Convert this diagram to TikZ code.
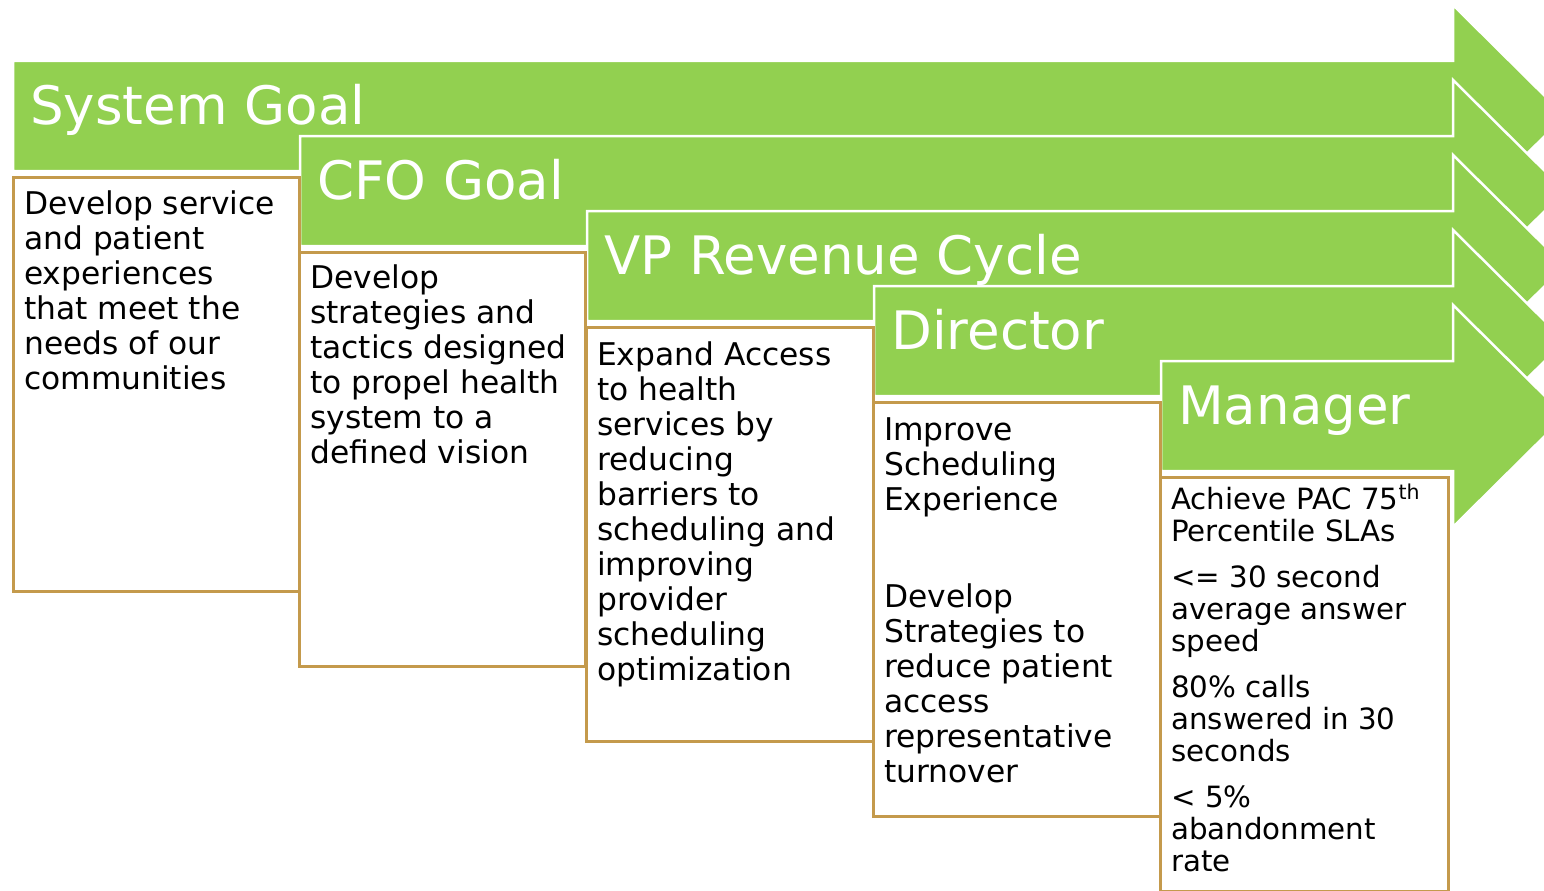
\documentclass[tikz,border=0pt]{standalone}
\usepackage{fontspec}
\setmainfont{DejaVu Sans}
\usetikzlibrary{calc}

\definecolor{leafgreen}{HTML}{92D050}
\definecolor{tanline}{HTML}{C49A4C}

\tikzset{
  levelarrow/.style={fill=leafgreen, draw=white, line width=2.5pt, line join=miter},
  leveltitle/.style={anchor=base west, inner sep=0pt, text=white, font=\fontsize{53}{60}\selectfont},
  goalbox/.style={draw=tanline, fill=white, line width=3pt, anchor=north west, inner sep=0pt,
    outer sep=0pt, minimum width=286pt, minimum height=414pt},
  % base of a multi-line node sits on its last line
  goaltext/.style={anchor=base west, inner sep=0pt, align=left, font=\fontsize{31.3}{35}\selectfont},
}

\begin{document}
\begin{tikzpicture}[x=1pt, y=-1pt]
  \useasboundingbox (0,0) rectangle (1544,891);
  \clip (0,0) rectangle (1544,891);

  % staircase of level arrows
  \foreach \k/\name/\lbl in {0/sysgoal/System Goal, 1/cfogoal/CFO Goal, 2/vprev/VP Revenue Cycle,
                             3/director/Director, 4/manager/Manager} {
    \pgfmathsetmacro{\lx}{13+287*\k}
    \pgfmathsetmacro{\ty}{61+75*\k}
    \draw[levelarrow] (\lx,\ty) -- (1453,\ty) -- (1453,\ty-56) -- (1565,\ty+55)
      -- (1453,\ty+166) -- (1453,\ty+110) -- (\lx,\ty+110) -- cycle;
    \node[leveltitle] (\name) at (\lx+17,\ty+63) {\lbl};
  }

  % goal boxes under each arrow
  \node[goalbox] (sysbox) at (13,177) {};
  \node[goalbox] (cfobox) at (299,252) {};
  \node[goalbox, minimum width=287pt] (vpbox) at (586,327) {};
  \node[goalbox, minimum width=287pt] (dirbox) at (873,402) {};
  \node[goalbox, minimum width=288pt] (mgrbox) at (1160,477) {};

  \node[goaltext] (systext) at ($(sysbox.north west)+(11,212)$)
    {Develop service\\ and patient\\ experiences\\ that meet the\\ needs of our\\ communities};
  \node[goaltext] (cfotext) at ($(cfobox.north west)+(11,211)$)
    {Develop\\ strategies and\\ tactics designed\\ to propel health\\ system to a\\ defined vision};
  \node[goaltext] (vptext) at ($(vpbox.north west)+(11,353)$)
    {Expand Access\\ to health\\ services by\\ reducing\\ barriers to\\ scheduling and\\ improving\\ provider\\ scheduling\\ optimization};
  \node[goaltext] (dirtext) at ($(dirbox.north west)+(11,380)$)
    {Improve\\ Scheduling\\ Experience\\[62pt] Develop\\ Strategies to\\ reduce patient\\ access\\ representative\\ turnover};
  \node[goaltext, font=\fontsize{29.3}{32}\selectfont] (mgrtext) at ($(mgrbox.north west)+(11,394)$)
    {Achieve PAC 75\textsuperscript{th}\\ Percentile SLAs\\[14pt] <= 30 second\\ average answer\\ speed\\[14pt]
     80\% calls\\ answered in 30\\ seconds\\[14pt] < 5\%\\ abandonment\\ rate};
\end{tikzpicture}
\end{document}
